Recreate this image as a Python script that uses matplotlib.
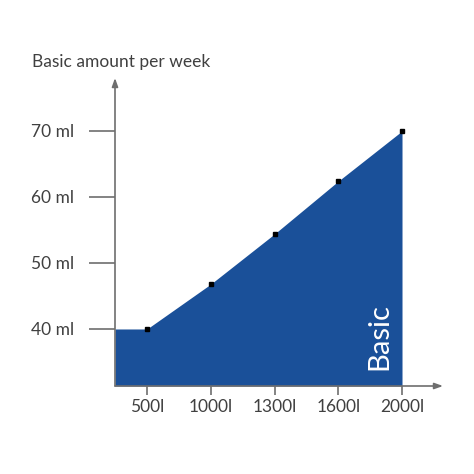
import matplotlib
matplotlib.use("Agg")
import matplotlib.pyplot as plt

plt.rcParams['font.family'] = ['Lato', 'DejaVu Sans']

# data
volumes = ["500l", "1000l", "1300l", "1600l", "2000l"]
amounts = [40.0, 46.8, 54.4, 62.4, 70.0]
y_ticks = [40, 50, 60, 70]
y_labels = ["40 ml", "50 ml", "60 ml", "70 ml"]
title = "Basic amount per week"
area_label = "Basic"

fill_col = "#1a5099"
axis_col = "#6e6e6e"
text_col = "#404040"

x = list(range(len(volumes)))
x_left, x_right = -0.502, 4.643
y_bottom, y_top = 31.36, 78.03

fig = plt.figure(figsize=(4.74, 4.74), dpi=100)
ax = fig.add_axes([115 / 474, 1 - 386 / 474, (443 - 115) / 474, (386 - 78) / 474])
ax.set_xlim(x_left, x_right)
ax.set_ylim(y_bottom, y_top)

# area: flat start from the axis, then the rising line
xs = [x_left] + x
ys = [amounts[0]] + amounts
ax.fill_between(xs, ys, y_bottom, color=fill_col, linewidth=0, zorder=1)
ax.plot(x, amounts, linestyle="none", marker="s", markersize=2.6, color="black", zorder=3)

ax.text(x[-1] - 0.35, 38.8, area_label, rotation=90, color="white", fontsize=21,
        fontweight="normal", ha="center", va="center", zorder=4)

for s in ax.spines.values():
    s.set_visible(False)

# axes with arrow heads
ax.annotate("", xy=(0, 1), xytext=(0, 0), xycoords="axes fraction",
            arrowprops=dict(arrowstyle="-|>,head_length=0.5,head_width=0.18",
                            color=axis_col, lw=1.2, shrinkA=0, shrinkB=0))
ax.annotate("", xy=(1, 0), xytext=(0, 0), xycoords="axes fraction",
            arrowprops=dict(arrowstyle="-|>,head_length=0.5,head_width=0.18",
                            color=axis_col, lw=1.2, shrinkA=0, shrinkB=0))

ax.set_xticks(x)
ax.set_xticklabels(volumes)
ax.set_yticks(y_ticks)
ax.set_yticklabels(y_labels)
ax.tick_params(axis="y", length=18.7, width=1.2, color=axis_col, pad=11,
               labelsize=12.5, labelcolor=text_col)
ax.tick_params(axis="x", length=6.5, width=1.2, color=axis_col, pad=3,
               labelsize=12.5, labelcolor=text_col)

fig.text(32 / 474, 1 - 62 / 474, title, fontsize=12.5, color=text_col,
         ha="left", va="center")

fig.savefig("out.png", dpi=100, facecolor="white")
